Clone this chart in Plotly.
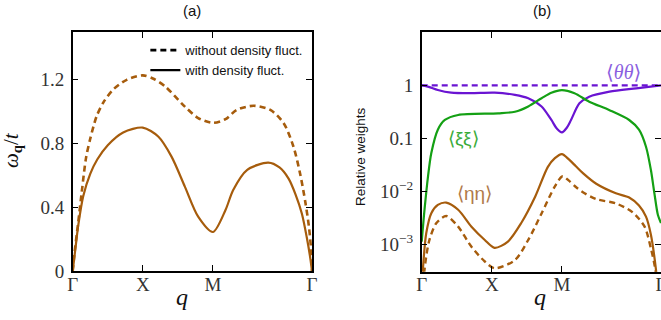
import plotly.graph_objects as go

# ---------------- data ----------------
# path coordinate: Γ=0, X=1, M=2, Γ=2+sqrt(2)
path_ticks = [0, 1, 2, 3.414]
path_labels = ["Γ", "X", "M", "Γ"]

# panel (a): dispersion omega_q / t
q_wo = [0, 0.03, 0.08, 0.13, 0.19, 0.25, 0.34, 0.44, 0.58, 0.77, 1.0, 1.16, 1.32, 1.6, 1.79, 2.0,
        2.18, 2.34, 2.58, 2.82, 3.01, 3.15, 3.25, 3.32, 3.37, 3.40, 3.414]
w_wo = [0, 0.13, 0.31, 0.50, 0.71, 0.83, 0.97, 1.06, 1.14, 1.20, 1.228, 1.205, 1.158, 1.032, 0.96, 0.93,
        0.953, 1.011, 1.037, 1.011, 0.928, 0.78, 0.60, 0.43, 0.28, 0.14, 0]

q_w = [0, 0.033, 0.08, 0.15, 0.25, 0.35, 0.5, 0.72, 1.0, 1.22, 1.41, 1.6, 1.79, 2.0, 2.18,
       2.29, 2.49, 2.79, 2.95, 3.08, 3.18, 3.27, 3.34, 3.39, 3.414]
w_w = [0, 0.12, 0.29, 0.47, 0.61, 0.70, 0.79, 0.87, 0.90, 0.844, 0.718, 0.53, 0.341, 0.245, 0.383,
       0.509, 0.635, 0.68, 0.65, 0.58, 0.48, 0.36, 0.21, 0.08, 0]

# panel (b): relative weights
q_theta = [0, 0.1, 0.23, 0.42, 0.7, 1.04, 1.33, 1.52, 1.71, 1.85, 1.93, 2.0, 2.07, 2.13, 2.25,
           2.39, 2.68, 3.06, 3.414]
theta = [1.0, 0.933, 0.813, 0.724, 0.708, 0.724, 0.661, 0.569, 0.398, 0.221, 0.151, 0.129, 0.158,
         0.221, 0.457, 0.610, 0.759, 0.877, 1.0]
q_theta0 = [0, 3.414]
theta0 = [1.0, 1.0]

q_xi = [0, 0.04, 0.09, 0.137, 0.23, 0.33, 0.52, 1.09, 1.33, 1.52, 1.71, 1.85, 2.0, 2.18, 2.39,
        2.68, 2.96, 3.1, 3.2, 3.27, 3.32, 3.37, 3.414]
xi = [0.00112, 0.00447, 0.0191, 0.0525, 0.145, 0.221, 0.275, 0.295, 0.316, 0.398, 0.569, 0.724,
      0.813, 0.708, 0.490, 0.339, 0.221, 0.145, 0.0692, 0.0251, 0.00912, 0.00355, 0.00251]

q_eta = [0, 0.02, 0.065, 0.137, 0.23, 0.35, 0.52, 0.71, 0.9, 1.04, 1.23, 1.42, 1.62, 1.80, 1.90,
         2.0, 2.1, 2.2, 2.3, 2.49, 2.77, 2.96, 3.1, 3.2, 3.27, 3.34, 3.38, 3.414]
eta = [1e-4, 3.8e-4, 1.62e-3, 3.85e-3, 5.5e-3, 6.1e-3, 4.47e-3, 2.14e-3, 1.2e-3, 8.5e-4, 1.12e-3,
       2.51e-3, 7.94e-3, 0.0288, 0.0420, 0.0501, 0.0398, 0.0295, 0.0219, 0.0138, 0.00912, 0.00759,
       0.00537, 0.00331, 0.00151, 3.5e-4, 1e-4, 1e-5]

q_eta0 = [0, 0.04, 0.11, 0.21, 0.35, 0.52, 0.71, 0.9, 1.04, 1.33, 1.52, 1.71, 1.90, 2.01, 2.1,
          2.2, 2.3, 2.49, 2.77, 3.01, 3.18, 3.27, 3.33, 3.414]
eta0 = [3.2e-5, 3.3e-4, 1.2e-3, 2.51e-3, 3.39e-3, 2.14e-3, 8.9e-4, 4.7e-4, 3.5e-4, 5.0e-4, 1.2e-3,
        3.8e-3, 0.0123, 0.0191, 0.0158, 0.0120, 0.00955, 0.00708, 0.00589, 0.00398, 0.00214,
        8.3e-4, 3.5e-4, 3e-5]

BROWN = "#a65c0c"
PURPLE = "#6a14d2"
GREEN = "#14a014"
DASH = "6px,4px"

fig = go.Figure()

# panel (a)
fig.add_trace(go.Scatter(x=q_wo, y=w_wo, mode="lines", line=dict(color=BROWN, width=2.6, dash=DASH, shape="spline", smoothing=0.8),
                         showlegend=False, xaxis="x", yaxis="y"))
fig.add_trace(go.Scatter(x=q_w, y=w_w, mode="lines", line=dict(color=BROWN, width=2.2, shape="spline", smoothing=0.8),
                         showlegend=False, xaxis="x", yaxis="y"))
# legend entries
fig.add_trace(go.Scatter(x=[None], y=[None], mode="lines", line=dict(color="black", width=2.6, dash=DASH),
                         name="without density fluct.", xaxis="x", yaxis="y"))
fig.add_trace(go.Scatter(x=[None], y=[None], mode="lines", line=dict(color="black", width=2.2),
                         name="with density fluct.", xaxis="x", yaxis="y"))

# panel (b)
fig.add_trace(go.Scatter(x=q_theta0, y=theta0, mode="lines", line=dict(color=PURPLE, width=2.2, dash=DASH),
                         showlegend=False, xaxis="x2", yaxis="y2"))
fig.add_trace(go.Scatter(x=q_theta, y=theta, mode="lines", line=dict(color=PURPLE, width=2.2, shape="spline", smoothing=0.8),
                         showlegend=False, xaxis="x2", yaxis="y2"))
fig.add_trace(go.Scatter(x=q_xi, y=xi, mode="lines", line=dict(color=GREEN, width=2.2, shape="spline", smoothing=0.8),
                         showlegend=False, xaxis="x2", yaxis="y2"))
fig.add_trace(go.Scatter(x=q_eta0, y=eta0, mode="lines", line=dict(color=BROWN, width=2.4, dash=DASH, shape="spline", smoothing=0.8),
                         showlegend=False, xaxis="x2", yaxis="y2"))
fig.add_trace(go.Scatter(x=q_eta, y=eta, mode="lines", line=dict(color=BROWN, width=2.2, shape="spline", smoothing=0.8),
                         showlegend=False, xaxis="x2", yaxis="y2"))

TICKFONT = dict(family="Liberation Serif, DejaVu Serif, serif", size=19, color="#333")
common = dict(showline=True, linecolor="black", linewidth=1.5, mirror="ticks", ticks="inside",
              ticklen=6, tickwidth=1.2, tickcolor="black", showgrid=False, zeroline=False,
              tickfont=TICKFONT, automargin=False, ticklabeloverflow="allow")

fig.update_layout(
    width=661, height=320,
    margin=dict(l=0, r=0, t=0, b=0, pad=0, autoexpand=False),
    paper_bgcolor="white", plot_bgcolor="white",
    xaxis=dict(domain=[0.110, 0.472], range=[0, 3.414], tickvals=path_ticks, ticktext=path_labels,
               anchor="y", ticklabelstandoff=-5, **common),
    yaxis=dict(domain=[0.153, 0.9], range=[0, 1.5], tickvals=[0, 0.4, 0.8, 1.2],
               ticktext=["0", "0.4", "0.8", "1.2"], anchor="x", ticklabelstandoff=3, **common),
    xaxis2=dict(domain=[0.638, 1.0], range=[0, 3.414], tickvals=path_ticks, ticktext=path_labels,
                anchor="y2", ticklabelstandoff=-5, **common),
    yaxis2=dict(domain=[0.151, 0.899], type="log", range=[-3.52, 1.0], tickvals=[1, 0.1, 0.01, 0.001],
                ticktext=["1", "0.1", "10<sup>−2</sup>", "10<sup>−3</sup>"], anchor="x2",
                ticklabelstandoff=3, **common),
    legend=dict(x=0.468, y=0.89, xanchor="right", yanchor="top", bgcolor="rgba(0,0,0,0)",
                font=dict(family="Liberation Sans, Arial, sans-serif", size=13, color="#111"),
                tracegroupgap=0, itemwidth=30),
    showlegend=True,
)

SANS = "Liberation Sans, Arial, sans-serif"
SERIF = "Liberation Serif, DejaVu Serif, serif"
ann = [
    dict(text="(a)", x=192 / 661, y=1 - 10 / 320, font=dict(family=SANS, size=15, color="#111")),
    dict(text="(b)", x=542 / 661, y=1 - 10 / 320, font=dict(family=SANS, size=15, color="#111")),
    dict(text="<i>q</i>", x=182 / 661, y=1 - 297 / 320, font=dict(family=SERIF, size=24, color="#111")),
    dict(text="<i>q</i>", x=540 / 661, y=1 - 297 / 320, font=dict(family=SERIF, size=24, color="#111")),
    dict(text="<i>ω</i><sub><b>q</b></sub>/<i>t</i>", x=12 / 661, y=1 - 150 / 320, textangle=-90,
         font=dict(family=SERIF, size=21, color="#111")),
    dict(text="Relative weights", x=360 / 661, y=1 - 157 / 320, textangle=-90,
         font=dict(family=SANS, size=13.5, color="#111")),
    dict(text="⟨<i>θθ</i>⟩", x=623 / 661, y=1 - 72 / 320, font=dict(family=SERIF, size=20, color="#8b5fe0")),
    dict(text="⟨ξξ⟩", x=463 / 661, y=1 - 138 / 320, font=dict(family=SANS, size=19, color="#3aac3a")),
    dict(text="⟨ηη⟩", x=474 / 661, y=1 - 193 / 320, font=dict(family=SANS, size=19, color="#b07a4a")),
]
for a in ann:
    a.update(xref="paper", yref="paper", showarrow=False, xanchor="center", yanchor="middle")
fig.update_layout(annotations=ann)

fig.write_html("out.html")
